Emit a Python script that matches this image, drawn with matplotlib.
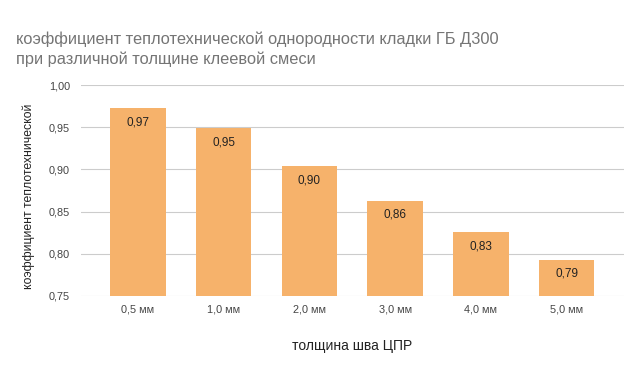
import matplotlib.pyplot as plt

# values
categories = ["0,5 мм", "1,0 мм", "2,0 мм", "3,0 мм", "4,0 мм", "5,0 мм"]
values = [0.973, 0.949, 0.904, 0.863, 0.826, 0.793]
yticks = [0.75, 0.80, 0.85, 0.90, 0.95, 1.00]

plt.rcParams["font.family"] = ["Liberation Sans", "DejaVu Sans"]

fig = plt.figure(figsize=(6.43, 3.71), dpi=100)
ax = fig.add_axes([0.126, 0.203, 0.844, 0.567])

x = range(len(categories))
ax.bar(x, values, width=0.647, color="#f6b26b", zorder=3)

for i, v in enumerate(values):
    ax.annotate(f"{v:.2f}".replace(".", ","), (i, v), xytext=(0, -6),
                textcoords="offset points", ha="center", va="top",
                fontsize=8.5, color="#222222", zorder=4)

ax.set_ylim(0.75, 1.00)
ax.set_xlim(-0.665, len(categories) - 0.335)
ax.set_yticks(yticks)
ax.set_yticklabels([f"{t:.2f}".replace(".", ",") for t in yticks])
ax.set_xticks(list(x))
ax.set_xticklabels(categories)
ax.tick_params(axis="both", length=0, labelsize=7.8, colors="#444444")
ax.tick_params(axis="y", pad=8)
ax.tick_params(axis="x", pad=6)
ax.grid(axis="y", color="#cccccc", linewidth=0.8, zorder=0)
for s in ax.spines.values():
    s.set_visible(False)

ax.set_ylabel("коэффициент теплотехнической", fontsize=8.8, color="#222222")
ax.yaxis.set_label_coords(-0.085, 0.474)
ax.set_xlabel("толщина шва ЦПР", fontsize=10, color="#222222", labelpad=18)

fig.text(0.025, 0.915, "коэффициент теплотехнической однородности кладки ГБ Д300\nпри различной толщине клеевой смеси",
         ha="left", va="top", fontsize=11.8, color="#757575", linespacing=1.35)

fig.savefig("out.png", dpi=100, facecolor="white")
